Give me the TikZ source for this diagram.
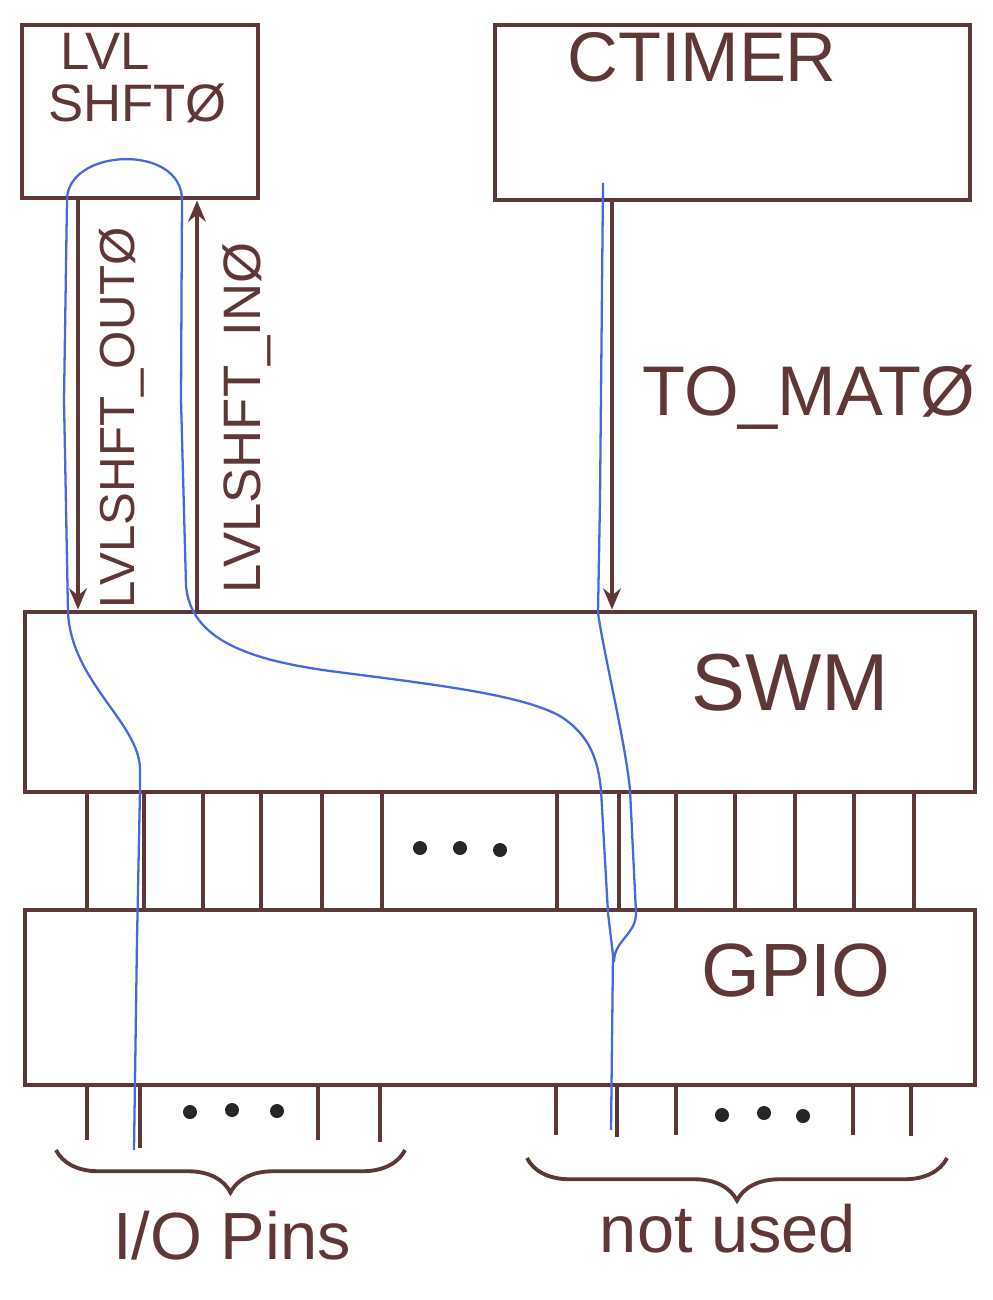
\documentclass[tikz,border=0pt]{standalone}
\usepackage{fontspec}
\setmainfont{Liberation Sans}
\usetikzlibrary{arrows.meta,fit,decorations.pathreplacing}
\definecolor{ink}{RGB}{95,55,55}
\definecolor{trace}{RGB}{70,105,225}
\tikzset{
  box/.style={draw=ink, line width=2.8pt, inner sep=0pt},
  sig/.style={draw=ink, line width=2pt, -{Stealth[length=12pt,width=10pt]}},
  pin/.style={draw=ink, line width=1.8pt},
  route/.style={draw=trace, line width=1.3pt},
  lbl/.style={text=ink, inner sep=0pt},
  bracket/.style={draw=ink, line width=2.2pt, decorate, decoration={brace, mirror, amplitude=0.85cm}}
}
\newcommand{\fsz}[1]{\fontsize{#1}{#1}\selectfont}

\begin{document}
\begin{tikzpicture}[x=0.02cm, y=-0.02cm]
  \useasboundingbox (0,0) rectangle (992,1300);
  % blocks
  \node[box, fit={(22,25) (258,198)}] (lvl) {};
  \node[box, fit={(495,25) (970,200)}] (ctimer) {};
  \node[box, fit={(25,612) (975,792)}] (swm) {};
  \node[box, fit={(25,910) (975,1085)}] (gpio) {};
  \node[lbl, font=\fsz{30}, anchor=base west] (lvltxt) at (60,70) {LVL};
  \node[lbl, font=\fsz{30}, anchor=base west] (shfttxt) at (48,122) {SHFTØ};
  \node[lbl, font=\fsz{40}, anchor=base] (ctimertxt) at (702,82) {CTIMER};
  \node[lbl, font=\fsz{46}, anchor=base] (swmtxt) at (790,710) {SWM};
  \node[lbl, font=\fsz{43}, anchor=base] (gpiotxt) at (796,996) {GPIO};

  % signals
  \coordinate (outx) at (78,0);
  \coordinate (inx) at (197,0);
  \coordinate (matx) at (612,0);
  \draw[sig] (lvl.south -| outx) -- (swm.north -| outx);
  \draw[sig] (swm.north -| inx) -- (lvl.south -| inx);
  \draw[sig] (ctimer.south -| matx) -- (swm.north -| matx);
  \node[lbl, font=\fsz{28}, rotate=90, anchor=base] (outtxt) at (134,418) {LVLSHFT\_OUTØ};
  \node[lbl, font=\fsz{30}, rotate=90, anchor=base] (intxt) at (260,418) {LVLSHFT\_INØ};
  \node[lbl, font=\fsz{40}, anchor=base] (mattxt) at (809,416) {TO\_MATØ};

  % pins
  \foreach \x in {87,144,203,261,322,382,557,619,676,735,795,854,914} {
    \coordinate (p) at (\x,0);
    \draw[pin] (swm.south -| p) -- (gpio.north -| p);
  }
  \foreach \x/\e in {87/1140,140/1148,318/1140,380/1142,556/1135,617/1137,676/1135,853/1135,911/1136} {
    \coordinate (p) at (\x,0);
    \draw[pin] (gpio.south -| p) -- (\x,\e);
  }
  \foreach \x/\y in {420/848,460/848,500/850,190/1112,232/1110,277/1111,722/1115,764/1113,803/1116}
    \fill[black!85] (\x,\y) circle[radius=0.14cm];

  % brackets
  \draw[bracket] (56,1150) -- (405,1150);
  \draw[bracket] (527,1158) -- (947,1158);
  \node[lbl, font=\fsz{38}, anchor=base] (iotxt) at (232,1259) {I/O Pins};
  \node[lbl, font=\fsz{38}, anchor=base] (unusedtxt) at (728,1252) {not used};

  % routing
  \draw[route] (134,1150) -- (137,940) -- (140,790) -- (140,768)
    .. controls (138,722) and (72,682) .. (68,613) -- (64,400) -- (67,200)
    .. controls (67,148) and (182,143) .. (182,200) -- (181,400) -- (186,585)
    .. controls (190,640) and (250,660) .. (330,671)
    .. controls (430,684) and (520,694) .. (560,716)
    .. controls (590,735) and (598,760) .. (601,790) -- (608,913)
    -- (613,955) -- (611,1130);
  \draw[route] (603,183) -- (600,500) -- (598,613)
    .. controls (605,660) and (625,740) .. (630,790) -- (636,913)
    .. controls (636,935) and (614,940) .. (614,962);
\end{tikzpicture}
\end{document}
